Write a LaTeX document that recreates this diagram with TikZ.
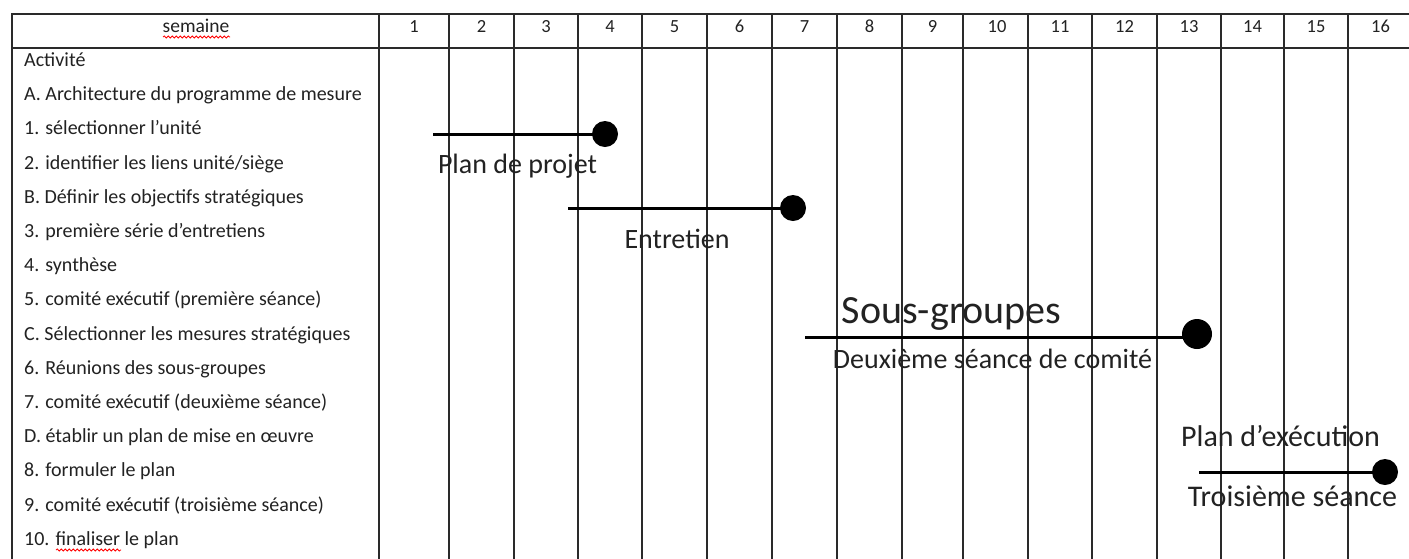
\documentclass[tikz,border=0pt]{standalone}
\usepackage{fontspec}
\setmainfont{Carlito}
\usetikzlibrary{decorations.pathmorphing}
\definecolor{ink}{HTML}{222222}
\definecolor{rule}{HTML}{2A2A2A}
\begin{document}
\begin{tikzpicture}[x=1pt,y=-1pt,
  grid/.style={draw=rule, line width=2pt},
  rowtext/.style={anchor=base west, inner sep=0pt, text=ink, font=\fontsize{20}{20}\selectfont},
  headtext/.style={anchor=base, inner sep=0pt, text=ink, font=\fontsize{18.5}{18.5}\selectfont},
  bar/.style={line width=3pt, draw=black},
  milestone/.style={circle, fill=black, inner sep=0pt, minimum size=26pt},
  barlabel/.style={anchor=base, inner sep=0pt, text=ink, font=\fontsize{28}{28}\selectfont},
  spell/.style={draw=red, line width=0.8pt, decorate,
    decoration={snake, segment length=4pt, amplitude=1pt}}
]
\useasboundingbox (0,0) rectangle (1409,558);
\clip (0,0) rectangle (1409,558);
\fill[white] (0,0) rectangle (1409,558);

% table frame and rules
\draw[grid] (12,570) -- (12,14) -- (1420,14);
\draw[grid] (12,48) -- (1420,48);
\foreach \x in {379,449,514,578,642,707,772,837,902,963,1028,1092,1157,1221,1284,1348}
  \draw[grid] (\x,14) -- (\x,570);

% header
\node[headtext, font=\fontsize{19.5}{19.5}\selectfont] (sem) at (196,32) {semaine};
\draw[spell] (163,37) -- (230,37);
\foreach \n/\cx in {1/414,2/481.5,3/546,4/610,5/674.5,6/739.5,7/804.5,8/869.5,
                    9/932.5,10/997,11/1060,12/1124.5,13/1189,14/1252.5,15/1316,16/1380.5}
  \node[headtext] (w\n) at (\cx,32) {\n};

% activity column
\node[rowtext] (r0)  at (24,66.5)  {Activité};
\node[rowtext] (rA)  at (24,100.7) {A. Architecture du programme de mesure};
\node[rowtext] (r1)  at (24,134.9) {1. sélectionner l'unité};
\node[rowtext] (r2)  at (24,169.1) {2. identifier les liens unité/siège};
\node[rowtext] (rB)  at (24,203.3) {B. Définir les objectifs stratégiques};
\node[rowtext] (r3)  at (24,237.5) {3. première série d'entretiens};
\node[rowtext] (r4)  at (24,271.7) {4. synthèse};
\node[rowtext] (r5)  at (24,305.9) {5. comité exécutif (première séance)};
\node[rowtext] (rC)  at (24,340.1) {C. Sélectionner les mesures stratégiques};
\node[rowtext] (r6)  at (24,374.3) {6. Réunions des sous-groupes};
\node[rowtext] (r7)  at (24,408.5) {7. comité exécutif (deuxième séance)};
\node[rowtext] (rD)  at (24,442.7) {D. établir un plan de mise en œuvre};
\node[rowtext] (r8)  at (24,476.9) {8. formuler le plan};
\node[rowtext] (r9)  at (24,511.1) {9. comité exécutif (troisième séance)};
\node[rowtext] (r10) at (24,545.3) {10. finaliser le plan};
\draw[spell] (56,550) -- (121,550);

% milestones
\node[milestone] (m1) at (605,134) {};
\coordinate (s1) at (433,134);
\draw[bar] (s1) -- (m1.center);
\node[barlabel] (l1) at (517.5,173) {Plan de projet};

\node[milestone] (m2) at (793,208) {};
\coordinate (s2) at (568,208);
\draw[bar] (s2) -- (m2.center);
\node[barlabel] (l2) at (677,248) {Entretien};

\node[milestone, minimum size=30pt] (m3) at (1197,334) {};
\coordinate (s3) at (805,337);
\coordinate (e3) at (1197,337);
\draw[bar] (s3) -- (e3);
\node[barlabel, font=\fontsize{40}{40}\selectfont] (l3a) at (951.5,323) {Sous-groupes};
\node[barlabel] (l3b) at (992.5,368) {Deuxième séance de comité};

\node[milestone] (m4) at (1385,472) {};
\coordinate (s4) at (1199,472);
\draw[bar] (s4) -- (m4.center);
\node[barlabel, font=\fontsize{30}{30}\selectfont] (l4a) at (1280.5,446) {Plan d’exécution};
\node[barlabel, font=\fontsize{30}{30}\selectfont] (l4b) at (1292.5,506.5) {Troisième séance};
\end{tikzpicture}
\end{document}
